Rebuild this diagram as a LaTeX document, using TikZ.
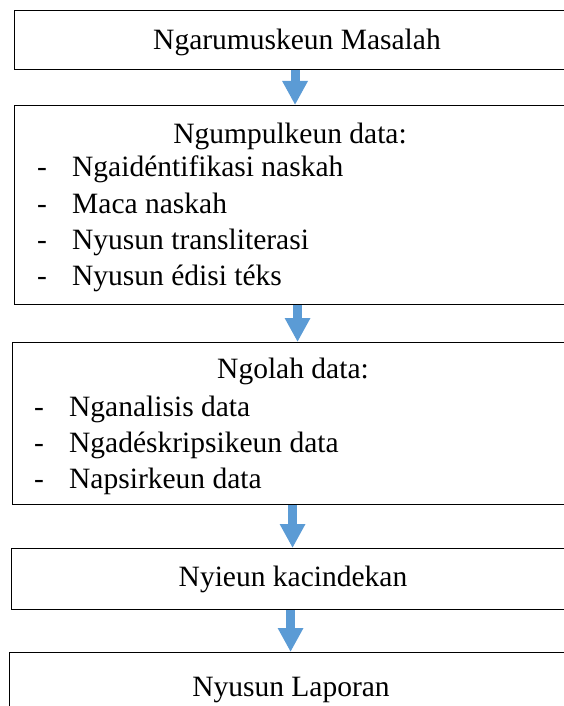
\documentclass[tikz,border=0pt]{standalone}
\usepackage{fontspec}
\setmainfont{Liberation Serif}
\usetikzlibrary{arrows.meta}
\definecolor{fblue}{HTML}{5B9BD5}
\tikzset{
  stagebox/.style = {draw, line width=1.1pt, rectangle, inner sep=0pt,
                     anchor=north west},
  txt/.style      = {inner sep=0pt, anchor=base},
  item/.style     = {inner sep=0pt, anchor=base west},
  flow/.style     = {fblue, line width=9pt,
                     -{Triangle[width=24pt,length=24pt]}},
}

\begin{document}
\begin{tikzpicture}[x=1pt, y=-1pt, font=\fontsize{29.5}{36}\selectfont]
\useasboundingbox (0,0) rectangle (564,706);
\clip (0,0) rectangle (564,706);
% ---- stage boxes ----
\node[stagebox, minimum width=553pt, minimum height=59pt]  (masalah) at (14,10) {};
\node[stagebox, minimum width=553pt, minimum height=199pt] (kumpul)  at (14,105) {};
\node[stagebox, minimum width=555pt, minimum height=162pt] (olah)    at (12,342) {};
\node[stagebox, minimum width=556pt, minimum height=61pt]  (cindek)  at (11,548) {};
\node[stagebox, minimum width=558pt, minimum height=80pt]  (lapor)   at (9,652) {};
% ---- texts ----
\node[txt] (t1) at (297,50)  {Ngarumuskeun Masalah};
\node[txt] (t2) at (290,143) {Ngumpulkeun data:};
\node[item] (i21) at (37,176) {\makebox[35pt][l]{-}Ngaidéntifikasi naskah};
\node[item] (i22) at (37,213) {\makebox[35pt][l]{-}Maca naskah};
\node[item] (i23) at (37,249) {\makebox[35pt][l]{-}Nyusun transliterasi};
\node[item] (i24) at (37,285) {\makebox[35pt][l]{-}Nyusun édisi téks};
\node[txt] (t3) at (293,378) {Ngolah data:};
\node[item] (i31) at (34,416) {\makebox[35pt][l]{-}Nganalisis data};
\node[item] (i32) at (34,452) {\makebox[35pt][l]{-}Ngadéskripsikeun data};
\node[item] (i33) at (34,488) {\makebox[35pt][l]{-}Napsirkeun data};
\node[txt] (t4) at (293,586) {Nyieun kacindekan};
\node[txt] (t5) at (291,696) {Nyusun Laporan};
% ---- arrows between stages ----
\draw[flow] ([xshift=4pt]masalah.south) -- ([xshift=4pt]masalah.south |- kumpul.north);
\draw[flow] ([xshift=6.5pt]kumpul.south) -- ([xshift=6.5pt]kumpul.south |- olah.north);
\draw[flow] ([xshift=2.5pt]olah.south) -- ([xshift=2.5pt]olah.south |- cindek.north);
\draw[flow] ([xshift=1pt]cindek.south) -- ([xshift=1pt]cindek.south |- lapor.north);
\end{tikzpicture}
\end{document}
